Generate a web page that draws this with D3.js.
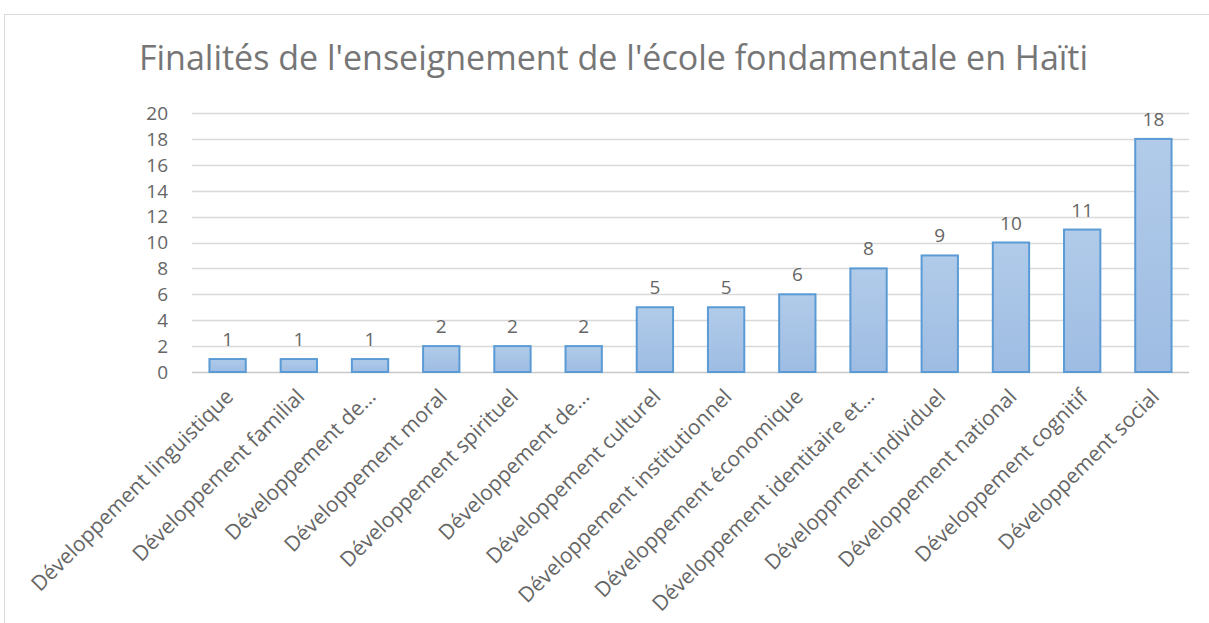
<!DOCTYPE html>
<html><head><meta charset="utf-8">
<script src="https://cdn.jsdelivr.net/npm/d3@7"></script>
<style>body{margin:0;background:#fff;} svg{display:block;}</style>
</head><body>
<svg id="c" width="1209" height="623"></svg>
<script>
const title = "Finalités de l'enseignement de l'école fondamentale en Haïti";
const categories = ["Développement linguistique","Développement familial","Développement de…","Développement moral","Développement spirituel","Développement de…","Développement culturel","Développement institutionnel","Développement économique","Développement identitaire et…","Développment individuel","Développement national","Développement cognitif","Développement social"];
const values = [1,1,1,2,2,2,5,5,6,8,9,10,11,18];
const yTicks = [0,2,4,6,8,10,12,14,16,18,20];

const svg = d3.select("#c");
const font = "Open Sans, sans-serif";
const grey = "#666666";
svg.append("rect").attr("x",4.5).attr("y",14.5).attr("width",1300).attr("height",700)
  .attr("fill","#fff").attr("stroke","#d9d9d9").attr("stroke-width",1);

const defs = svg.append("defs");
const g1 = defs.append("linearGradient").attr("id","bg").attr("x1",0).attr("y1",0).attr("x2",0).attr("y2",1);
g1.append("stop").attr("offset","0%").attr("stop-color","#b1cbe9");
g1.append("stop").attr("offset","100%").attr("stop-color","#9ebce3");

const x = d3.scaleBand().domain(d3.range(categories.length)).range([192,1189]).paddingInner(0.49).paddingOuter(0.245);
const y = d3.scaleLinear().domain([0,20]).range([372,113]);

svg.append("text").attr("x",613.5).attr("y",70).attr("text-anchor","middle")
  .attr("font-family",font).attr("font-size",34).attr("fill","#767676").text(title);

svg.append("g").selectAll("line").data(yTicks).join("line")
  .attr("x1",192).attr("x2",1189).attr("y1",d=>Math.round(y(d))+0.5).attr("y2",d=>Math.round(y(d))+0.5)
  .attr("stroke",d=>d===0?"#c8c8c8":"#d9d9d9").attr("stroke-width",1.3);

svg.append("g").selectAll("text").data(yTicks).join("text")
  .attr("x",168).attr("y",d=>y(d)).attr("dy","0.36em").attr("text-anchor","end")
  .attr("font-family",font).attr("font-size",19).attr("fill",grey).text(d=>d);

svg.append("g").selectAll("rect").data(values).join("rect")
  .attr("x",(d,i)=>x(i)).attr("width",x.bandwidth())
  .attr("y",d=>y(d)).attr("height",d=>y(0)-y(d))
  .attr("fill","url(#bg)").attr("stroke","#5b9bd5").attr("stroke-width",2);

svg.append("g").selectAll("text").data(values).join("text")
  .attr("x",(d,i)=>x(i)+x.bandwidth()/2).attr("y",d=>y(d)-13)
  .attr("text-anchor","middle").attr("font-family",font).attr("font-size",19).attr("fill",grey).text(d=>d);

svg.append("g").selectAll("text").data(categories).join("text")
  .attr("transform",(d,i)=>`translate(${x(i)+x.bandwidth()/2+7},${398}) rotate(-45)`)
  .attr("text-anchor","end").attr("font-family",font).attr("font-size",21).attr("fill",grey).text(d=>d);
</script>
</body></html>
